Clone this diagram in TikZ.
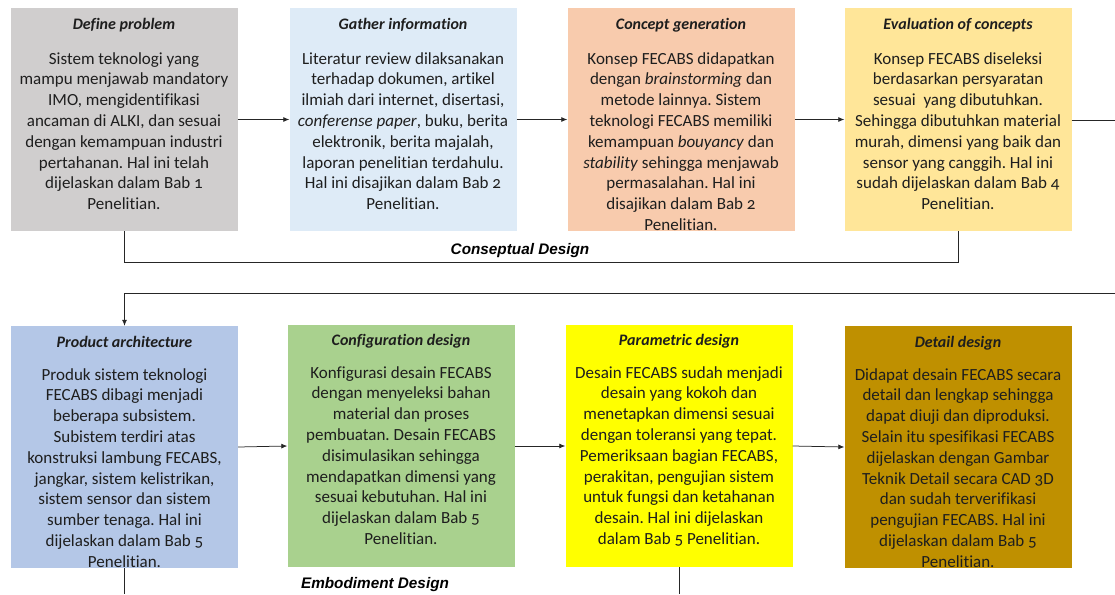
\documentclass[tikz,border=0pt]{standalone}
\usepackage{fontspec}
\setmainfont{Carlito}[Numbers=OldStyle,Ligatures=NoCommon]
\newfontfamily\lblfont{Liberation Sans}
\usetikzlibrary{arrows.meta}
\definecolor{c1}{HTML}{D0CECE}
\definecolor{c2}{HTML}{DEEBF7}
\definecolor{c3}{HTML}{F8CBAD}
\definecolor{c4}{HTML}{FFE699}
\definecolor{c5}{HTML}{B4C7E7}
\definecolor{c6}{HTML}{A9D18E}
\definecolor{c7}{HTML}{FFFF00}
\definecolor{c8}{HTML}{BF9000}
\definecolor{txt}{HTML}{1E1E1E}
\frenchspacing
\begin{document}
\begin{tikzpicture}[x=1pt,y=-1pt,
  topbox/.style={rectangle,draw=none,inner sep=0pt,minimum width=227pt,minimum height=223pt},
  botbox/.style={rectangle,draw=none,inner sep=0pt,minimum width=227pt,minimum height=242pt},
  ttl/.style={anchor=base,inner sep=0pt,text=txt,font=\fontsize{16}{19}\selectfont\bfseries\itshape},
  body/.style={anchor=north,inner sep=0pt,align=center,text=txt,font=\fontsize{17}{20.8}\selectfont},
  arr/.style={draw=black!85,line width=0.75pt,-{Latex[length=6pt,width=5pt]}},
  ln/.style={draw=black!85,line width=0.75pt},
  lbl/.style={inner sep=0pt,font=\lblfont\fontsize{15.3}{18}\selectfont\bfseries\itshape}]
\useasboundingbox (0,0) rectangle (1115,594);
% top row boxes
\node[topbox,fill=c1] (b1) at (124,119.5) {};
\node[topbox,fill=c2] (b2) at (403,119.5) {};
\node[topbox,fill=c3] (b3) at (681,119.5) {};
\node[topbox,fill=c4] (b4) at (958,119.5) {};
% bottom row boxes
\node[botbox,fill=c5] (b5) at (124.5,447) {};
\node[botbox,fill=c6] (b6) at (401,446) {};
\node[botbox,fill=c7] (b7) at (679,446) {};
\node[botbox,fill=c8] (b8) at (958,447) {};
% titles
\node[ttl] (t1) at (124,30) {Define problem};
\node[ttl] (t2) at (403,30) {Gather information};
\node[ttl] (t3) at (681,30) {Concept generation};
\node[ttl] (t4) at (958,30) {Evaluation of concepts};
\node[ttl] (t5) at (124.5,347) {Product architecture};
\node[ttl] (t6) at (401,345) {Configuration design};
\node[ttl] (t7) at (679,345) {Parametric design};
\node[ttl] (t8) at (958,347) {Detail design};
% bodies
\node[body] (x1) at (124,52) {Sistem teknologi yang\\ mampu menjawab mandatory\\ IMO, mengidentifikasi\\ ancaman di ALKI, dan sesuai\\ dengan kemampuan industri\\ pertahanan. Hal ini telah\\ dijelaskan dalam Bab 1\\ Penelitian.};
\node[body] (x2) at (403,52) {Literatur review dilaksanakan\\ terhadap dokumen, artikel\\ ilmiah dari internet, disertasi,\\ \textit{conferense paper}, buku, berita\\ elektronik, berita majalah,\\ laporan penelitian terdahulu.\\ Hal ini disajikan dalam Bab 2\\ Penelitian.};
\node[body] (x3) at (681,52) {Konsep FECABS didapatkan\\ dengan \textit{brainstorming} dan\\ metode lainnya. Sistem\\ teknologi FECABS memiliki\\ kemampuan \textit{bouyancy} dan\\ \textit{stability} sehingga menjawab\\ permasalahan. Hal ini\\ disajikan dalam Bab 2\\ Penelitian.};
\node[body] (x4) at (958,52) {Konsep FECABS diseleksi\\ berdasarkan persyaratan\\ sesuai\ \ yang dibutuhkan.\\ Sehingga dibutuhkan material\\ murah, dimensi yang baik dan\\ sensor yang canggih. Hal ini\\ sudah dijelaskan dalam Bab 4\\ Penelitian.};
\node[body] (x5) at (124.5,368) {Produk sistem teknologi\\ FECABS dibagi menjadi\\ beberapa subsistem.\\ Subistem terdiri atas\\ konstruksi lambung FECABS,\\ jangkar, sistem kelistrikan,\\ sistem sensor dan sistem\\ sumber tenaga. Hal ini\\ dijelaskan dalam Bab 5\\ Penelitian.};
\node[body] (x6) at (401,366) {Konfigurasi desain FECABS\\ dengan menyeleksi bahan\\ material dan proses\\ pembuatan. Desain FECABS\\ disimulasikan sehingga\\ mendapatkan dimensi yang\\ sesuai kebutuhan. Hal ini\\ dijelaskan dalam Bab 5\\ Penelitian.};
\node[body] (x7) at (679,366) {Desain FECABS sudah menjadi\\ desain yang kokoh dan\\ menetapkan dimensi sesuai\\ dengan toleransi yang tepat.\\ Pemeriksaan bagian FECABS,\\ perakitan, pengujian sistem\\ untuk fungsi dan ketahanan\\ desain. Hal ini dijelaskan\\ dalam Bab 5 Penelitian.};
\node[body] (x8) at (958,368) {Didapat desain FECABS secara\\ detail dan lengkap sehingga\\ dapat diuji dan diproduksi.\\ Selain itu spesifikasi FECABS\\ dijelaskan dengan Gambar\\ Teknik Detail secara CAD 3D\\ dan sudah terverifikasi\\ pengujian FECABS. Hal ini\\ dijelaskan dalam Bab 5\\ Penelitian.};
% labels
\node[lbl] (l1) at (520,251) {Conseptual Design};
\node[lbl] (l2) at (375,585) {Embodiment Design};
% free ends
\coordinate (r1) at (1115,120);
\coordinate (r2) at (1115,293);
\coordinate (bot) at (0,594);
% connectors top row
\draw[arr] (b1.east) -- (b2.west);
\draw[arr] (b2.east) -- (b3.west);
\draw[arr] (b3.east) -- (b4.west);
\draw[ln] (b4.east |- r1) -- (r1);
\draw[ln] (b1.south) -- ++(0,31) -| (b4.south);
% connectors bottom row
\draw[arr] (r2) -| (b5.north);
\draw[arr] (b5.east) -- (b6.west);
\draw[arr] (b6.east) -- (b7.west);
\draw[arr] (b7.east) -- (b8.west);
\draw[ln] (b5.south) -- (b5.south |- bot);
\draw[ln] (b7.south) -- (b7.south |- bot);
\end{tikzpicture}
\end{document}
